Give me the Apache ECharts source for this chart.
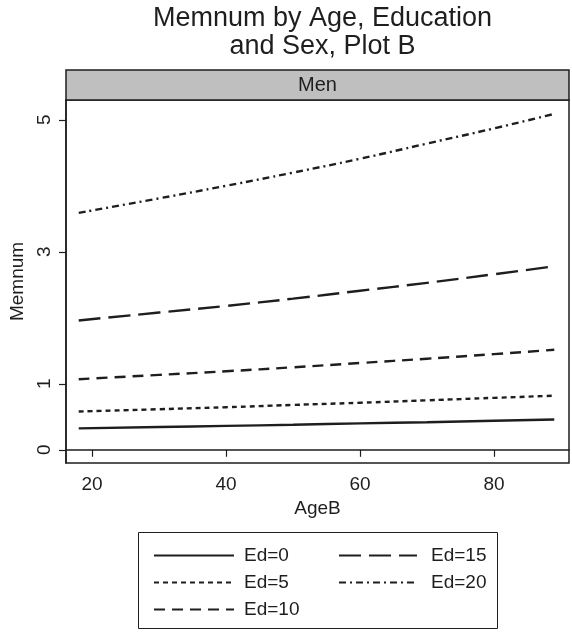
<!DOCTYPE html>
<html>
<head>
<meta charset="utf-8">
<script src="https://cdn.jsdelivr.net/npm/echarts@6/dist/echarts.min.js"></script>
<style>
html,body{margin:0;padding:0;background:#fff;}
#chart{width:572px;height:639px;}
</style>
</head>
<body>
<div id="chart"></div>
<script>
const titleText = 'Memnum by Age, Education\nand Sex, Plot B';
const panelLabel = 'Men';
const xName = 'AgeB';
const yName = 'Memnum';
const xTicks = [20, 40, 60, 80];
const yTicks = [0, 1, 3, 5];
const ages = [18, 30, 40, 50, 60, 70, 80, 89];
const seriesNames = ['Ed=0', 'Ed=5', 'Ed=10', 'Ed=15', 'Ed=20'];
const ed0  = [0.325, 0.345, 0.362, 0.38, 0.40, 0.418, 0.44, 0.458];
const ed5  = [0.58, 0.615, 0.645, 0.68, 0.713, 0.75, 0.787, 0.82];
const ed10 = [1.07, 1.135, 1.19, 1.25, 1.315, 1.38, 1.45, 1.515];
const ed15 = [1.96, 2.08, 2.18, 2.29, 2.41, 2.53, 2.66, 2.78];
const ed20 = [3.59, 3.81, 4.00, 4.20, 4.41, 4.64, 4.87, 5.09];
const seriesValues = [ed0, ed5, ed10, ed15, ed20];

const dashes = ['solid', [5, 4], [11, 7], [22, 8], [7, 4, 2, 4]];
const FONT = '"Liberation Sans", Arial, Helvetica, sans-serif';
const INK = '#1e1e1e';

const chart = echarts.init(document.getElementById('chart'), null, {renderer: 'canvas'});

const series = seriesNames.map((name, i) => ({
  name: name,
  type: 'line',
  symbol: 'none',
  smooth: true,
  data: ages.map((a, j) => [a, seriesValues[i][j]]),
  lineStyle: {color: INK, width: 2.4, type: dashes[i]},
  itemStyle: {color: INK},
  emphasis: {disabled: true},
  animation: false
}));

const legendCommon = {
  orient: 'vertical',
  top: 541,
  itemHeight: 14, itemGap: 8,
  selectedMode: false,
  itemStyle: {opacity: 0, borderWidth: 0},
};

chart.setOption({
  animation: false,
  backgroundColor: '#fff',
  textStyle: {fontFamily: FONT, color: INK},
  title: {
    text: titleText,
    left: 317.5,
    textAlign: 'center',
    top: 0,
    textStyle: {fontFamily: FONT, fontSize: 27, fontWeight: 'normal', color: INK, lineHeight: 28}
  },
  grid: {
    left: 66, right: 3, top: 100, bottom: 176,
    show: true, borderColor: INK, borderWidth: 1.5, backgroundColor: 'transparent'
  },
  xAxis: {
    type: 'value',
    min: 16.1, max: 91.2,
    name: xName,
    nameLocation: 'middle',
    nameGap: 36,
    nameTextStyle: {fontFamily: FONT, fontSize: 19, color: INK},
    axisLine: {show: true, lineStyle: {color: INK, width: 1.5}},
    axisTick: {show: true, customValues: xTicks, length: 7, lineStyle: {color: INK, width: 1.2}},
    axisLabel: {customValues: xTicks, fontFamily: FONT, fontSize: 19, color: INK, margin: 12},
    splitLine: {show: false}
  },
  yAxis: {
    type: 'value',
    min: -0.2, max: 5.3,
    name: yName,
    nameLocation: 'middle',
    nameGap: 36,
    nameRotate: 90,
    nameTextStyle: {fontFamily: FONT, fontSize: 19, color: INK},
    axisLine: {show: true, lineStyle: {color: INK, width: 1.5}},
    axisTick: {show: true, customValues: yTicks, length: 7, lineStyle: {color: INK, width: 1.2}},
    axisLabel: {customValues: yTicks, rotate: 90, fontFamily: FONT, fontSize: 19, color: INK, margin: 12},
    splitLine: {show: false}
  },
  legend: [
    Object.assign({}, legendCommon, {
      data: seriesNames.slice(0, 3),
      left: 148,
      itemWidth: 80,
      textStyle: {fontFamily: FONT, fontSize: 19, color: INK, padding: [0, 0, 0, 5]}
    }),
    Object.assign({}, legendCommon, {
      data: seriesNames.slice(3),
      left: 333,
      itemWidth: 78,
      textStyle: {fontFamily: FONT, fontSize: 19, color: INK, padding: [0, 0, 0, 9]}
    })
  ],
  graphic: [
    {
      type: 'rect',
      shape: {x: 66, y: 70, width: 503, height: 30},
      style: {fill: '#bfbfbf', stroke: INK, lineWidth: 1.5},
      z: 10
    },
    {
      type: 'text',
      x: 317.5, y: 85,
      style: {text: panelLabel, fontFamily: FONT, fontSize: 20, fill: INK, align: 'center', verticalAlign: 'middle'},
      z: 11
    },
    {
      type: 'rect',
      shape: {x: 138.5, y: 532.5, width: 359, height: 96},
      style: {fill: 'none', stroke: INK, lineWidth: 1},
      z: 1
    }
  ],
  series: series
});
</script>
</body>
</html>
